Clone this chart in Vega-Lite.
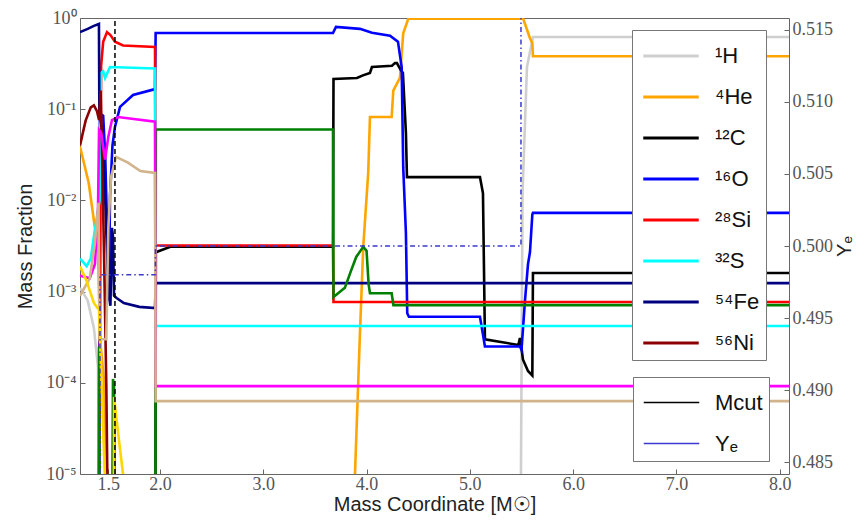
{
  "$schema": "https://vega.github.io/schema/vega-lite/v6.json",
  "width": 709,
  "height": 456,
  "autosize": {"type": "none"},
  "padding": {"left": 80, "top": 18, "right": 78, "bottom": 48},
  "config": {
    "view": {"stroke": "#666", "strokeWidth": 1},
    "axis": {"grid": false, "domain": false, "tickColor": "#666", "labelFont": "Liberation Serif", "labelFontSize": 18, "labelColor": "#555", "titleFont": "Liberation Sans", "titleFontSize": 20, "titleFontWeight": "normal", "titleColor": "#222"},
    "legend": {"labelFont": "Liberation Sans", "labelColor": "#111"}
  },
  "datasets": {
    "iso": [
      {"s": "¹H", "m": 1.2256, "v": 0.0011},
      {"s": "¹H", "m": 1.30, "v": 0.0008},
      {"s": "¹H", "m": 1.36, "v": 0.0004},
      {"s": "¹H", "m": 1.40, "v": 0.00015},
      {"s": "¹H", "m": 1.415, "v": 0.000001},
      {"s": "¹H", "m": 5.49, "v": 0.000001},
      {"s": "¹H", "m": 5.51, "v": 0.012},
      {"s": "¹H", "m": 5.553, "v": 0.29},
      {"s": "¹H", "m": 5.611, "v": 0.62},
      {"s": "¹H", "m": 8.09, "v": 0.62},

      {"s": "⁴He", "m": 1.2256, "v": 0.039},
      {"s": "⁴He", "m": 1.31, "v": 0.0155},
      {"s": "⁴He", "m": 1.37, "v": 0.005},
      {"s": "⁴He", "m": 1.40, "v": 0.0029},
      {"s": "⁴He", "m": 1.42, "v": 0.0003},
      {"s": "⁴He", "m": 1.46, "v": 0.0001},
      {"s": "⁴He", "m": 1.48, "v": 0.000001},
      {"s": "⁴He", "m": 3.85, "v": 0.000001},
      {"s": "⁴He", "m": 3.888, "v": 0.00001},
      {"s": "⁴He", "m": 3.936, "v": 0.00035},
      {"s": "⁴He", "m": 3.968, "v": 0.0031},
      {"s": "⁴He", "m": 4.016, "v": 0.02},
      {"s": "⁴He", "m": 4.033, "v": 0.082},
      {"s": "⁴He", "m": 4.243, "v": 0.082},
      {"s": "⁴He", "m": 4.259, "v": 0.16},
      {"s": "⁴He", "m": 4.323, "v": 0.22},
      {"s": "⁴He", "m": 4.355, "v": 0.68},
      {"s": "⁴He", "m": 4.404, "v": 0.98},
      {"s": "⁴He", "m": 5.517, "v": 0.98},
      {"s": "⁴He", "m": 5.582, "v": 0.6},
      {"s": "⁴He", "m": 5.605, "v": 0.53},
      {"s": "⁴He", "m": 5.611, "v": 0.38},
      {"s": "⁴He", "m": 8.09, "v": 0.38},

      {"s": "¹²C", "m": 1.2256, "v": 0.000001},
      {"s": "¹²C", "m": 1.955, "v": 0.000001},
      {"s": "¹²C", "m": 1.96, "v": 0.0027},
      {"s": "¹²C", "m": 2.10, "v": 0.0031},
      {"s": "¹²C", "m": 3.675, "v": 0.0031},
      {"s": "¹²C", "m": 3.68, "v": 0.214},
      {"s": "¹²C", "m": 3.907, "v": 0.22},
      {"s": "¹²C", "m": 3.965, "v": 0.235},
      {"s": "¹²C", "m": 4.033, "v": 0.25},
      {"s": "¹²C", "m": 4.052, "v": 0.29},
      {"s": "¹²C", "m": 4.246, "v": 0.30},
      {"s": "¹²C", "m": 4.275, "v": 0.32},
      {"s": "¹²C", "m": 4.294, "v": 0.32},
      {"s": "¹²C", "m": 4.33, "v": 0.27},
      {"s": "¹²C", "m": 4.352, "v": 0.25},
      {"s": "¹²C", "m": 4.381, "v": 0.055},
      {"s": "¹²C", "m": 4.391, "v": 0.018},
      {"s": "¹²C", "m": 5.098, "v": 0.018},
      {"s": "¹²C", "m": 5.127, "v": 0.012},
      {"s": "¹²C", "m": 5.146, "v": 0.0003},
      {"s": "¹²C", "m": 5.47, "v": 0.00026},
      {"s": "¹²C", "m": 5.485, "v": 0.00031},
      {"s": "¹²C", "m": 5.50, "v": 0.00024},
      {"s": "¹²C", "m": 5.514, "v": 0.00018},
      {"s": "¹²C", "m": 5.563, "v": 0.000135},
      {"s": "¹²C", "m": 5.605, "v": 0.00012},
      {"s": "¹²C", "m": 5.611, "v": 0.0016},
      {"s": "¹²C", "m": 8.09, "v": 0.0016},

      {"s": "¹⁶O", "m": 1.2256, "v": 0.000001},
      {"s": "¹⁶O", "m": 1.41, "v": 0.000001},
      {"s": "¹⁶O", "m": 1.418, "v": 0.09},
      {"s": "¹⁶O", "m": 1.45, "v": 0.085},
      {"s": "¹⁶O", "m": 1.47, "v": 0.03},
      {"s": "¹⁶O", "m": 1.49, "v": 0.004},
      {"s": "¹⁶O", "m": 1.505, "v": 0.0008},
      {"s": "¹⁶O", "m": 1.516, "v": 0.011},
      {"s": "¹⁶O", "m": 1.54, "v": 0.04},
      {"s": "¹⁶O", "m": 1.564, "v": 0.064},
      {"s": "¹⁶O", "m": 1.613, "v": 0.106},
      {"s": "¹⁶O", "m": 1.739, "v": 0.143},
      {"s": "¹⁶O", "m": 1.952, "v": 0.166},
      {"s": "¹⁶O", "m": 1.958, "v": 0.685},
      {"s": "¹⁶O", "m": 3.675, "v": 0.685},
      {"s": "¹⁶O", "m": 3.704, "v": 0.8},
      {"s": "¹⁶O", "m": 3.936, "v": 0.76},
      {"s": "¹⁶O", "m": 4.052, "v": 0.69},
      {"s": "¹⁶O", "m": 4.227, "v": 0.64},
      {"s": "¹⁶O", "m": 4.304, "v": 0.55},
      {"s": "¹⁶O", "m": 4.34, "v": 0.29},
      {"s": "¹⁶O", "m": 4.355, "v": 0.023},
      {"s": "¹⁶O", "m": 4.381, "v": 0.0044},
      {"s": "¹⁶O", "m": 4.394, "v": 0.00058},
      {"s": "¹⁶O", "m": 4.41, "v": 0.00053},
      {"s": "¹⁶O", "m": 5.098, "v": 0.00053},
      {"s": "¹⁶O", "m": 5.125, "v": 0.00035},
      {"s": "¹⁶O", "m": 5.146, "v": 0.00025},
      {"s": "¹⁶O", "m": 5.485, "v": 0.00025},
      {"s": "¹⁶O", "m": 5.50, "v": 0.00023},
      {"s": "¹⁶O", "m": 5.534, "v": 0.0008},
      {"s": "¹⁶O", "m": 5.563, "v": 0.002},
      {"s": "¹⁶O", "m": 5.582, "v": 0.0027},
      {"s": "¹⁶O", "m": 5.605, "v": 0.007},
      {"s": "¹⁶O", "m": 5.611, "v": 0.0073},
      {"s": "¹⁶O", "m": 8.09, "v": 0.0073},

      {"s": "²⁸Si", "m": 1.2256, "v": 0.000001},
      {"s": "²⁸Si", "m": 1.41, "v": 0.000001},
      {"s": "²⁸Si", "m": 1.43, "v": 0.3},
      {"s": "²⁸Si", "m": 1.45, "v": 0.55},
      {"s": "²⁸Si", "m": 1.487, "v": 0.7},
      {"s": "²⁸Si", "m": 1.52, "v": 0.65},
      {"s": "²⁸Si", "m": 1.564, "v": 0.55},
      {"s": "²⁸Si", "m": 1.642, "v": 0.5},
      {"s": "²⁸Si", "m": 1.952, "v": 0.48},
      {"s": "²⁸Si", "m": 1.958, "v": 0.0032},
      {"s": "²⁸Si", "m": 3.675, "v": 0.0032},
      {"s": "²⁸Si", "m": 3.68, "v": 0.00077},
      {"s": "²⁸Si", "m": 8.09, "v": 0.00077},

      {"s": "³²S", "m": 1.2256, "v": 0.0023},
      {"s": "³²S", "m": 1.29, "v": 0.0019},
      {"s": "³²S", "m": 1.33, "v": 0.0023},
      {"s": "³²S", "m": 1.36, "v": 0.004},
      {"s": "³²S", "m": 1.40, "v": 0.0078},
      {"s": "³²S", "m": 1.415, "v": 0.01},
      {"s": "³²S", "m": 1.428, "v": 0.25},
      {"s": "³²S", "m": 1.45, "v": 0.26},
      {"s": "³²S", "m": 1.468, "v": 0.22},
      {"s": "³²S", "m": 1.49, "v": 0.25},
      {"s": "³²S", "m": 1.516, "v": 0.29},
      {"s": "³²S", "m": 1.952, "v": 0.28},
      {"s": "³²S", "m": 1.958, "v": 0.00042},
      {"s": "³²S", "m": 8.09, "v": 0.00042},

      {"s": "⁵⁴Fe", "m": 1.2256, "v": 0.7},
      {"s": "⁵⁴Fe", "m": 1.30, "v": 0.76},
      {"s": "⁵⁴Fe", "m": 1.36, "v": 0.82},
      {"s": "⁵⁴Fe", "m": 1.409, "v": 0.86},
      {"s": "⁵⁴Fe", "m": 1.413, "v": 0.09},
      {"s": "⁵⁴Fe", "m": 1.44, "v": 0.06},
      {"s": "⁵⁴Fe", "m": 1.47, "v": 0.01},
      {"s": "⁵⁴Fe", "m": 1.50, "v": 0.001},
      {"s": "⁵⁴Fe", "m": 1.52, "v": 0.0007},
      {"s": "⁵⁴Fe", "m": 1.535, "v": 0.005},
      {"s": "⁵⁴Fe", "m": 1.545, "v": 0.004},
      {"s": "⁵⁴Fe", "m": 1.555, "v": 0.0009},
      {"s": "⁵⁴Fe", "m": 1.58, "v": 0.00085},
      {"s": "⁵⁴Fe", "m": 1.65, "v": 0.00075},
      {"s": "⁵⁴Fe", "m": 1.80, "v": 0.00068},
      {"s": "⁵⁴Fe", "m": 1.952, "v": 0.00066},
      {"s": "⁵⁴Fe", "m": 1.958, "v": 0.00124},
      {"s": "⁵⁴Fe", "m": 8.09, "v": 0.00124},

      {"s": "⁵⁶Ni", "m": 1.2256, "v": 0.04},
      {"s": "⁵⁶Ni", "m": 1.28, "v": 0.075},
      {"s": "⁵⁶Ni", "m": 1.33, "v": 0.105},
      {"s": "⁵⁶Ni", "m": 1.36, "v": 0.11},
      {"s": "⁵⁶Ni", "m": 1.39, "v": 0.095},
      {"s": "⁵⁶Ni", "m": 1.41, "v": 0.076},
      {"s": "⁵⁶Ni", "m": 1.425, "v": 0.16},
      {"s": "⁵⁶Ni", "m": 1.44, "v": 0.03},
      {"s": "⁵⁶Ni", "m": 1.46, "v": 0.002},
      {"s": "⁵⁶Ni", "m": 1.48, "v": 0.0001},
      {"s": "⁵⁶Ni", "m": 1.49, "v": 0.00001},
      {"s": "⁵⁶Ni", "m": 1.50, "v": 0.000001},
      {"s": "⁵⁶Ni", "m": 8.09, "v": 0.000001},

      {"s": "²⁰Ne", "m": 1.2256, "v": 0.000001},
      {"s": "²⁰Ne", "m": 1.405, "v": 0.000001},
      {"s": "²⁰Ne", "m": 1.41, "v": 0.00025},
      {"s": "²⁰Ne", "m": 1.42, "v": 0.000001},
      {"s": "²⁰Ne", "m": 1.535, "v": 0.000001},
      {"s": "²⁰Ne", "m": 1.545, "v": 0.00011},
      {"s": "²⁰Ne", "m": 1.555, "v": 0.00009},
      {"s": "²⁰Ne", "m": 1.565, "v": 0.000001},
      {"s": "²⁰Ne", "m": 1.955, "v": 0.000001},
      {"s": "²⁰Ne", "m": 1.96, "v": 0.06},
      {"s": "²⁰Ne", "m": 3.675, "v": 0.06},
      {"s": "²⁰Ne", "m": 3.68, "v": 0.00087},
      {"s": "²⁰Ne", "m": 3.79, "v": 0.0011},
      {"s": "²⁰Ne", "m": 3.85, "v": 0.0017},
      {"s": "²⁰Ne", "m": 3.90, "v": 0.0024},
      {"s": "²⁰Ne", "m": 3.968, "v": 0.0031},
      {"s": "²⁰Ne", "m": 4.00, "v": 0.0028},
      {"s": "²⁰Ne", "m": 4.02, "v": 0.0012},
      {"s": "²⁰Ne", "m": 4.033, "v": 0.00096},
      {"s": "²⁰Ne", "m": 4.243, "v": 0.00096},
      {"s": "²⁰Ne", "m": 4.26, "v": 0.00071},
      {"s": "²⁰Ne", "m": 8.09, "v": 0.00071},

      {"s": "²⁴Mg", "m": 1.2256, "v": 0.0015},
      {"s": "²⁴Mg", "m": 1.32, "v": 0.0014},
      {"s": "²⁴Mg", "m": 1.37, "v": 0.002},
      {"s": "²⁴Mg", "m": 1.40, "v": 0.008},
      {"s": "²⁴Mg", "m": 1.41, "v": 0.059},
      {"s": "²⁴Mg", "m": 1.43, "v": 0.055},
      {"s": "²⁴Mg", "m": 1.468, "v": 0.028},
      {"s": "²⁴Mg", "m": 1.50, "v": 0.05},
      {"s": "²⁴Mg", "m": 1.535, "v": 0.076},
      {"s": "²⁴Mg", "m": 1.594, "v": 0.082},
      {"s": "²⁴Mg", "m": 1.952, "v": 0.073},
      {"s": "²⁴Mg", "m": 1.958, "v": 0.000092},
      {"s": "²⁴Mg", "m": 8.09, "v": 0.000092},

      {"s": "³⁶Ar", "m": 1.2256, "v": 0.0009},
      {"s": "³⁶Ar", "m": 1.32, "v": 0.0014},
      {"s": "³⁶Ar", "m": 1.37, "v": 0.0034},
      {"s": "³⁶Ar", "m": 1.405, "v": 0.0094},
      {"s": "³⁶Ar", "m": 1.415, "v": 0.0003},
      {"s": "³⁶Ar", "m": 1.48, "v": 0.0003},
      {"s": "³⁶Ar", "m": 1.50, "v": 0.005},
      {"s": "³⁶Ar", "m": 1.526, "v": 0.018},
      {"s": "³⁶Ar", "m": 1.574, "v": 0.03},
      {"s": "³⁶Ar", "m": 1.69, "v": 0.026},
      {"s": "³⁶Ar", "m": 1.81, "v": 0.021},
      {"s": "³⁶Ar", "m": 1.952, "v": 0.02},
      {"s": "³⁶Ar", "m": 1.958, "v": 0.000063},
      {"s": "³⁶Ar", "m": 8.09, "v": 0.000063},

      {"s": "⁴⁰Ca", "m": 1.2256, "v": 0.0019},
      {"s": "⁴⁰Ca", "m": 1.29, "v": 0.0013},
      {"s": "⁴⁰Ca", "m": 1.36, "v": 0.00075},
      {"s": "⁴⁰Ca", "m": 1.41, "v": 0.00063},
      {"s": "⁴⁰Ca", "m": 1.45, "v": 0.00003},
      {"s": "⁴⁰Ca", "m": 1.50, "v": 0.000001},
      {"s": "⁴⁰Ca", "m": 1.55, "v": 0.0000001},
      {"s": "⁴⁰Ca", "m": 1.555, "v": 0.00007},
      {"s": "⁴⁰Ca", "m": 1.60, "v": 0.000025},
      {"s": "⁴⁰Ca", "m": 1.642, "v": 0.00001},
      {"s": "⁴⁰Ca", "m": 1.67, "v": 0.000002},
      {"s": "⁴⁰Ca", "m": 8.09, "v": 0.0000001}
    ],
    "aux": [
      {"k": "Mcut", "m": 1.564, "v": 0.48417},
      {"k": "Mcut", "m": 1.5641, "v": 0.51583},
      {"k": "Yₑ", "m": 1.2256, "v": 0.45},
      {"k": "Yₑ", "m": 1.418, "v": 0.45},
      {"k": "Yₑ", "m": 1.419, "v": 0.498},
      {"k": "Yₑ", "m": 1.955, "v": 0.498},
      {"k": "Yₑ", "m": 1.956, "v": 0.5},
      {"k": "Yₑ", "m": 5.495, "v": 0.5},
      {"k": "Yₑ", "m": 5.496, "v": 0.9},
      {"k": "Yₑ", "m": 8.09, "v": 0.9}
    ]
  },
  "layer": [
    {
      "data": {"name": "iso"},
      "mark": {"type": "line", "clip": true, "strokeWidth": 2.6},
      "encoding": {
        "x": {
          "field": "m", "type": "quantitative",
          "scale": {"domain": [1.2256, 8.09], "nice": false, "zero": false},
          "axis": {"title": "Mass Coordinate [M☉]", "values": [1.5, 2, 3, 4, 5, 6, 7, 8], "format": ".1f", "tickSize": -5, "labelPadding": 6, "titlePadding": 1}
        },
        "y": {
          "field": "v", "type": "quantitative",
          "scale": {"type": "log", "domain": [0.00001, 1], "nice": false},
          "axis": {"title": "Mass Fraction", "values": [0.00001, 0.0001, 0.001, 0.01, 0.1, 1], "tickSize": -5, "labelPadding": 9, "titlePadding": 10,
            "labelExpr": "datum.value > 0.5 ? '10⁰' : datum.value > 0.05 ? '10⁻¹' : datum.value > 0.005 ? '10⁻²' : datum.value > 0.0005 ? '10⁻³' : datum.value > 0.00005 ? '10⁻⁴' : '10⁻⁵'"}
        },
        "color": {
          "field": "s", "type": "nominal",
          "scale": {
            "domain": ["¹H", "⁴He", "¹²C", "¹⁶O", "²⁸Si", "³²S", "⁵⁴Fe", "⁵⁶Ni", "²⁰Ne", "²⁴Mg", "³⁶Ar", "⁴⁰Ca"],
            "range": ["#cfcfcf", "#ffa500", "#000000", "#0000ff", "#ff0000", "#00ffff", "#000080", "#8b0000", "#008000", "#ff00ff", "#d2b48c", "#ffd700"]
          },
          "legend": {
            "title": null, "orient": "none", "legendX": 552, "legendY": 12,
            "values": ["¹H", "⁴He", "¹²C", "¹⁶O", "²⁸Si", "³²S", "⁵⁴Fe", "⁵⁶Ni"],
            "symbolType": "M-1.5,0H1.5", "symbolSize": 1369, "symbolStrokeWidth": 3, "symbolOffset": 13,
            "labelFontSize": 22, "labelOffset": 24, "rowPadding": 10, "padding": 6,
            "strokeColor": "#777", "fillColor": "white", "cornerRadius": 0, "labelLimit": 300
          }
        }
      }
    },
    {
      "data": {"name": "aux"},
      "mark": {"type": "line", "clip": true, "strokeWidth": 1.5},
      "encoding": {
        "x": {"field": "m", "type": "quantitative"},
        "y": {
          "field": "v", "type": "quantitative",
          "scale": {"domain": [0.48417, 0.51583], "nice": false, "zero": false},
          "axis": {"orient": "right", "title": "Yₑ", "titleAngle": 270, "values": [0.485, 0.49, 0.495, 0.5, 0.505, 0.51, 0.515], "format": ".3f", "tickSize": -5, "labelPadding": 8, "titlePadding": 22}
        },
        "color": {
          "field": "k", "type": "nominal",
          "scale": {"domain": ["Mcut", "Yₑ"], "range": ["#000000", "#3a3ad0"]},
          "legend": {
            "title": null, "orient": "none", "legendX": 553, "legendY": 359,
            "symbolType": "M-1.5,0H1.5", "symbolSize": 1369, "symbolStrokeWidth": 1.5, "symbolOffset": 13,
            "labelFontSize": 22, "labelOffset": 24, "rowPadding": 10, "padding": 6,
            "strokeColor": "#777", "fillColor": "white", "cornerRadius": 0, "labelLimit": 300
          }
        },
        "strokeDash": {
          "field": "k", "type": "nominal",
          "scale": {"domain": ["Mcut", "Yₑ"], "range": [[5, 3], [5, 3, 1.5, 3]]},
          "legend": {
            "title": null, "orient": "none", "legendX": 553, "legendY": 359,
            "symbolType": "M-1.5,0H1.5", "symbolSize": 1369, "symbolStrokeWidth": 1.5, "symbolOffset": 13,
            "labelFontSize": 22, "labelOffset": 24, "rowPadding": 10, "padding": 6,
            "strokeColor": "#777", "fillColor": "white", "cornerRadius": 0, "labelLimit": 300
          }
        }
      }
    }
  ],
  "resolve": {"scale": {"y": "independent", "color": "independent"}}
}
